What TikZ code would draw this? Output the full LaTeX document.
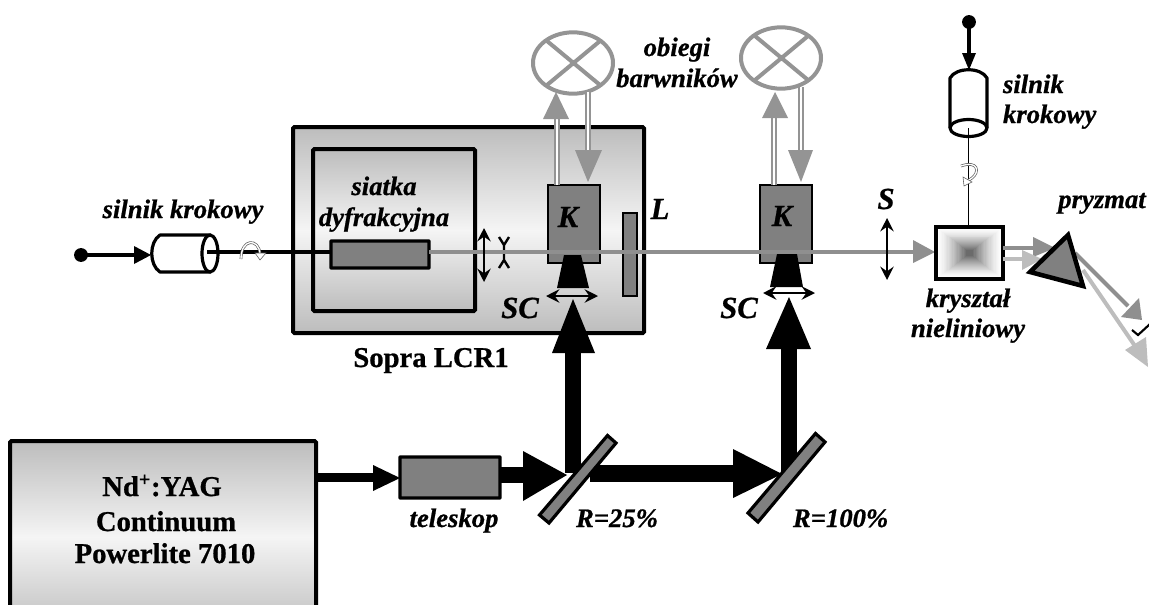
\documentclass[tikz,border=0pt]{standalone}
\usepackage{fontspec}
\setmainfont{Liberation Serif}[BoldFeatures={FakeBold=0.8},BoldItalicFeatures={FakeBold=0.8}]
\usetikzlibrary{arrows.meta,fit,shapes.geometric}
\definecolor{kgray}{gray}{0.5}
\definecolor{beamgray}{gray}{0.56}
\definecolor{lampgray}{gray}{0.58}
\definecolor{lightbeam}{gray}{0.74}
\definecolor{edgegray}{gray}{0.74}
\tikzset{
  every node/.append style={inner sep=0pt,outer sep=0pt},
  panel/.style={draw=black,line width=3pt,rounded corners=1pt,top color=edgegray,bottom color=edgegray,middle color=white!96!black},
  gbox/.style={draw=black,line width=2.6pt,fill=kgray,rounded corners=.5pt},
  thinbox/.style={draw=black,line width=1.8pt,fill=kgray},
  ittxt/.style={font=\fontsize{20}{20}\selectfont\bfseries\itshape,anchor=base},
  bftxt/.style={font=\fontsize{21.5}{22}\selectfont\bfseries,anchor=base},
  captxt/.style={font=\fontsize{23}{24}\selectfont\bfseries\itshape,anchor=base},
  beamline/.style={draw=beamgray,line width=3.4pt},
  pump/.style={draw=black,line width=12pt},
  dbl/.style={draw=lampgray,line width=1.5pt,double=white,double distance=1.6pt},
  lampn/.style={draw=lampgray,line width=3pt,ellipse,fill=white},
  lensarrow/.style={draw=black,line width=2.1pt,{Stealth[length=10pt,width=10pt,inset=3.5pt]}-{Stealth[length=10pt,width=10pt,inset=3.5pt]}},
  motorbody/.style={draw=black,line width=2.4pt,fill=white,line join=round},
  twist/.style={draw=black!65,line width=.5pt,double=white,double distance=1pt},
  drive/.style={draw=black,line width=2.4pt},
}
\begin{document}
\begin{tikzpicture}[x=0.75pt,y=-0.75pt]
\useasboundingbox (0,0) rectangle (1149,604);
\clip (0,0) rectangle (1149,604);

% ---- named points
\coordinate (dotL) at (81,255);
\coordinate (motorLin) at (151,255);
\coordinate (motorLout) at (207,252);
\coordinate (dotT) at (969,22);
\coordinate (motorTin) at (969,70);
\coordinate (motorTout) at (968,128);

% ---- housings
\node[panel,fit={(293,127)(644,333)}] (sopra) {};
\node[panel,fit={(313,149)(475,311)}] (inner) {};
\node[panel,fit={(10,441)(316,633)}] (laser) {};

% ---- motor-side black shaft
\draw[black,line width=2.4pt] (motorLout) -- (331,252);

% ---- grating, cells, plate
\node[gbox,fit={(331,241)(429,268)}] (grating) {};
\node[thinbox,fit={(548,185)(600,263)}] (K1) {};
\node[thinbox,fit={(760,185)(812,263)}] (K2) {};
\node[thinbox,fit={(623,213)(637,296)}] (plate) {};
\node[gbox,fit={(400,457)(500,498)}] (tele) {};

% ---- dye beam
\coordinate (beamEnd) at (913,252);
\draw[beamline] (grating.east |- 0,252) -- (beamEnd);
\draw[draw=none,fill=beamgray] (913,240) -- (935,252) -- (913,263) -- cycle;

% ---- intracavity lens and slit
\coordinate (lensA) at (484,228); \coordinate (lensB) at (484,282);
\draw[lensarrow] (lensA) -- (lensB);
\draw[black,line width=1.8pt] (499,237) -- (504,245) -- (509,237) (504,245) -- (504,260) (499,268) -- (504,260) -- (509,268);
\draw[beamline] (495,252) -- (515,252);
\coordinate (lensSa) at (887,218); \coordinate (lensSb) at (887,280);
\draw[lensarrow] (lensSa) -- (lensSb);

% ---- trapezoids
\fill[black] (564,255) -- (581,255) -- (589,288) -- (557,288) -- cycle;
\fill[black] (777,254) -- (797,254) -- (803,287) -- (770,287) -- cycle;
\coordinate (sc1a) at (546,296); \coordinate (sc1b) at (598,296);
\draw[lensarrow] (sc1a) -- (sc1b);
\coordinate (sc2a) at (763,293); \coordinate (sc2b) at (815,293);
\draw[lensarrow] (sc2a) -- (sc2b);

% ---- pump beams
\coordinate (m1foot) at (573,473);
\coordinate (m2foot) at (789,473);
\coordinate (p1base) at (573,353); \coordinate (p1tip) at (573,299);
\coordinate (p2base) at (789,349); \coordinate (p2tip) at (789,297);
\draw[pump] (m1foot) -- (p1base);
\draw[draw=none,fill=black] (552,353) -- (p1tip) -- (595,353) -- cycle;
\draw[pump] (m2foot) -- (p2base);
\draw[draw=none,fill=black] (766,349) -- (p2tip) -- (811,349) -- cycle;

\draw[pump,line width=12.5pt] (tele.east |- 0,475) -- (524,475);
\fill[black] (523,451) -- (567,475) -- (523,501) -- cycle;
\draw[pump,line width=12.5pt] (590,473.5) -- (734,473.5);
\fill[black] (733,449) -- (782,474) -- (733,498) -- cycle;

\draw[black,line width=6.4pt] (laser.east |- 0,477.5) -- (374,477.5);
\fill[black] (373,465) -- (400,478) -- (373,491) -- cycle;

\draw[thinbox,line width=2.4pt,line join=miter] (607.5,435.5) -- (616,443) -- (549,523) -- (539.5,515) -- cycle;
\draw[thinbox,line width=2.4pt,line join=miter] (815.5,433.5) -- (825,442) -- (758,522) -- (748,513) -- cycle;

% ---- lamps
\node[lampn,minimum width=60pt,minimum height=46pt] (lamp1) at (573,63) {};
\draw[draw=lampgray,line width=3pt] (547,41) -- (600,85) (547,85) -- (600,41);
\node[lampn,minimum width=60pt,minimum height=46pt] (lamp2) at (781,58) {};
\draw[draw=lampgray,line width=3pt] (755,36) -- (808,80) (755,80) -- (808,36);

% ---- dye circulation
\draw[dbl] (K1.north -| 557,0) -- (557,119);
\fill[lampgray] (543,119) -- (556,92) -- (569,119) -- cycle;
\draw[dbl] (588,92) -- (588,150);
\fill[lampgray] (575,150) -- (602,150) -- (588,182) -- cycle;
\draw[dbl] (K2.north -| 774,0) -- (774,118);
\fill[lampgray] (762,118) -- (775,92) -- (788,118) -- cycle;
\draw[dbl] (801,87) -- (801,150);
\fill[lampgray] (788,150) -- (813,150) -- (801,182) -- cycle;

% ---- left motor
\fill[black] (dotL) circle (5.2pt);
\draw[drive] (dotL) -- (136,255);
\fill[black] (134,246) -- (151,255) -- (134,264) -- cycle;
\draw[motorbody] (211,235) -- (160,235) .. controls (149,242) and (149,265) .. (160,272) -- (211,272);
\draw[motorbody] (210,253.5) ellipse [x radius=8,y radius=18.5];
\draw[black,line width=2.4pt] (motorLout) -- (240,252);
\draw[twist] (241,259) .. controls (241,238) and (259,238) .. (260,254);
\fill[white,draw=black!65,line width=.4pt] (255,253) -- (266,253) -- (260,260) -- cycle;

% ---- top motor
\fill[black] (dotT) circle (5.2pt);
\draw[drive] (dotT) -- (969,54);
\fill[black] (962,53) -- (976,53) -- (969,70) -- cycle;
\draw[motorbody] (950,128) -- (950,78) .. controls (956,67) and (981,67) .. (987,78) -- (987,128);
\draw[motorbody] (968.5,128) ellipse [x radius=18.5,y radius=8.5];

% ---- crystal
\foreach \i in {0,1,...,24}{
  \pgfmathsetmacro\g{58*(\i/24)^1.5}
  \fill[black!\g] ({936+\i*1.25},{227+\i*0.95}) rectangle ({1003-\i*1.25},{279-\i*0.95});
}
\node[draw=black,line width=3.2pt,fit={(936,227)(1003,279)}] (crystal) {};
\draw[black,line width=.7pt] (motorTout) -- (crystal.north -| 968,0);
\draw[twist] (961,166) .. controls (978,160) and (980,172) .. (972,178) -- (966,182);
\fill[white,draw=black!65,line width=.4pt] (963,177) -- (972,182) -- (964,186) -- cycle;

% ---- outputs
\draw[draw=beamgray,line width=3pt] (crystal.east |- 0,248) -- (1034,248);
\fill[beamgray] (1033,237) -- (1055,248) -- (1033,257) -- cycle;
\draw[draw=lightbeam,line width=3pt] (crystal.east |- 0,259) -- (1023,259);
\fill[lightbeam] (1022,250) -- (1042,259) -- (1022,270) -- cycle;

\coordinate (outA) at (1075,253); \coordinate (outAend) at (1128,306);
\coordinate (outB) at (1083,270); \coordinate (outBend) at (1135,346);
\draw[draw=lightbeam,line width=3pt] (outB) -- (outBend);
\fill[lightbeam] (1125,350) -- (1148,367) -- (1146,337) -- cycle;
\draw[draw=beamgray,line width=3pt] (outA) -- (outAend);
\fill[beamgray] (1121,317) -- (1142,320) -- (1139,298) -- cycle;
\draw[black,line width=1.6pt] (1132,330) -- (1138,335) -- (1150,324);

\draw[draw=black,line width=3.4pt,fill=kgray,line join=miter] (1068,235) -- (1030,272) -- (1083,286) -- cycle;

% ---- text
\node[ittxt] (tA) at (183,218) {silnik krokowy};
\node[ittxt] (tB) at (384,195) {siatka};
\node[ittxt] (tC) at (384,226) {dyfrakcyjna};
\node[ittxt] (tD) at (677,56) {obiegi};
\node[ittxt] (tE) at (677,87) {barwników};
\node[ittxt,anchor=base west] (tF) at (1003,93) {silnik};
\node[ittxt,anchor=base west] (tG) at (1003,123) {krokowy};
\node[ittxt] (tH) at (1102,208) {pryzmat};
\node[ittxt] (tI) at (968,307) {kryształ};
\node[ittxt] (tJ) at (968,337) {nieliniowy};
\node[ittxt] (tK) at (454,527) {teleskop};
\node[ittxt] (tL) at (617,527) {R=25\%};
\node[ittxt,anchor=base west] (tM) at (793,527) {R=100\%};
\node[captxt] (tN) at (568,227) {K};
\node[captxt] (tO) at (782,226) {K};
\node[captxt] (tP) at (660,219) {L};
\node[captxt] (tQ) at (886,209) {S};
\node[captxt] (tR) at (520,318) {SC};
\node[captxt] (tS) at (739,318) {SC};
\node[bftxt] (tT) at (431,367) {Sopra LCR1};
\node[bftxt] (tU) at (162,496) {Nd\textsuperscript{+}:YAG};
\node[bftxt] (tV) at (166,531) {Continuum};
\node[bftxt] (tW) at (165,563) {Powerlite 7010};
\end{tikzpicture}
\end{document}
